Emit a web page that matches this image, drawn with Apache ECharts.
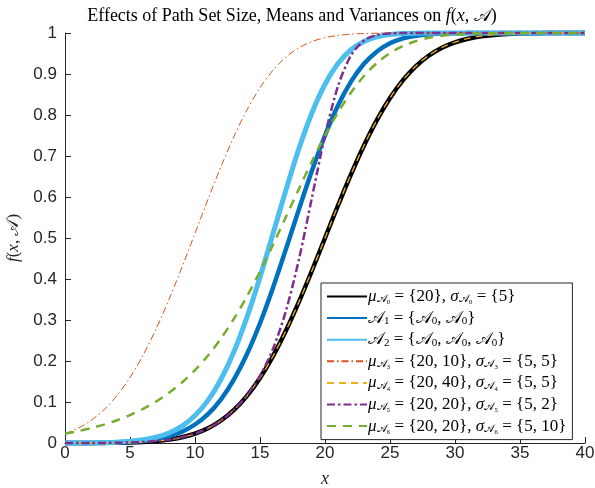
<!DOCTYPE html>
<html>
<head>
<meta charset="utf-8">
<script src="https://cdn.jsdelivr.net/npm/echarts@6/dist/echarts.min.js"></script>
<style>
  html, body { margin: 0; padding: 0; background: #fff; }
  #chart { width: 595px; height: 488px; }
</style>
</head>
<body>
<div id="chart"></div>
<script>
// x positions shared by every curve
const xs = [0, 1, 2, 3, 4, 5, 6, 7, 8, 9, 10, 11, 12, 13, 14, 15, 16, 17, 18, 19, 20,
  21, 22, 23, 24, 25, 26, 27, 28, 29, 30, 31, 32, 33, 34, 35, 36, 37, 38, 39, 40];

// values, one array per curve
const setA0 = [0.0000, 0.0001, 0.0002, 0.0003, 0.0007, 0.0013, 0.0026, 0.0047, 0.0082, 0.0139, 0.0228,
  0.0359, 0.0548, 0.0808, 0.1151, 0.1587, 0.2119, 0.2743, 0.3446, 0.4207, 0.5000,
  0.5793, 0.6554, 0.7257, 0.7881, 0.8413, 0.8849, 0.9192, 0.9452, 0.9641, 0.9772,
  0.9861, 0.9918, 0.9953, 0.9974, 0.9987, 0.9993, 0.9997, 0.9998, 0.9999, 1.0000];
const setA1 = [0.0001, 0.0001, 0.0003, 0.0007, 0.0014, 0.0027, 0.0051, 0.0093, 0.0163, 0.0276, 0.0451,
  0.0705, 0.1066, 0.1551, 0.2170, 0.2922, 0.3789, 0.4734, 0.5705, 0.6644, 0.7500,
  0.8230, 0.8813, 0.9248, 0.9551, 0.9748, 0.9868, 0.9935, 0.9970, 0.9987, 0.9995,
  0.9998, 1.0000, 1.0000, 1.0000, 1.0000, 1.0000, 1.0000, 1.0000, 1.0000, 1.0000];
const setA2 = [0.0001, 0.0002, 0.0005, 0.0010, 0.0021, 0.0040, 0.0078, 0.0140, 0.0244, 0.0411, 0.0669,
  0.1039, 0.1556, 0.2233, 0.3071, 0.4045, 0.5105, 0.6178, 0.7185, 0.8056, 0.8750,
  0.9255, 0.9591, 0.9794, 0.9905, 0.9960, 0.9985, 0.9995, 0.9998, 1.0000, 1.0000,
  1.0000, 1.0000, 1.0000, 1.0000, 1.0000, 1.0000, 1.0000, 1.0000, 1.0000, 1.0000];
const setA3 = [0.0228, 0.0360, 0.0550, 0.0811, 0.1157, 0.1598, 0.2140, 0.2777, 0.3500, 0.4288, 0.5114,
  0.5944, 0.6743, 0.7479, 0.8125, 0.8665, 0.9093, 0.9414, 0.9641, 0.9792, 0.9886,
  0.9942, 0.9972, 0.9987, 0.9994, 0.9998, 0.9999, 1.0000, 1.0000, 1.0000, 1.0000,
  1.0000, 1.0000, 1.0000, 1.0000, 1.0000, 1.0000, 1.0000, 1.0000, 1.0000, 1.0000];
const setA4 = [0.0000, 0.0001, 0.0002, 0.0003, 0.0007, 0.0013, 0.0026, 0.0047, 0.0082, 0.0139, 0.0228,
  0.0359, 0.0548, 0.0808, 0.1151, 0.1587, 0.2119, 0.2743, 0.3446, 0.4207, 0.5000,
  0.5793, 0.6554, 0.7257, 0.7881, 0.8415, 0.8852, 0.9197, 0.9457, 0.9650, 0.9777,
  0.9870, 0.9922, 0.9960, 0.9980, 0.9989, 0.9996, 0.9998, 0.9999, 1.0000, 1.0000];
const setA5 = [0.0000, 0.0001, 0.0002, 0.0003, 0.0007, 0.0013, 0.0026, 0.0047, 0.0082, 0.0139, 0.0228,
  0.0359, 0.0548, 0.0810, 0.1163, 0.1639, 0.2299, 0.3228, 0.4486, 0.5994, 0.7500,
  0.8702, 0.9453, 0.9817, 0.9952, 0.9990, 0.9998, 1.0000, 1.0000, 1.0000, 1.0000,
  1.0000, 1.0000, 1.0000, 1.0000, 1.0000, 1.0000, 1.0000, 1.0000, 1.0000, 1.0000];
const setA6 = [0.0228, 0.0288, 0.0361, 0.0449, 0.0555, 0.0681, 0.0832, 0.1010, 0.1224, 0.1477, 0.1779,
  0.2134, 0.2551, 0.3033, 0.3578, 0.4182, 0.4835, 0.5516, 0.6203, 0.6873, 0.7500,
  0.8064, 0.8550, 0.8952, 0.9270, 0.9510, 0.9684, 0.9804, 0.9884, 0.9934, 0.9964,
  0.9981, 0.9991, 0.9995, 0.9998, 0.9999, 1.0000, 1.0000, 1.0000, 1.0000, 1.0000];

const xTicks = [0, 5, 10, 15, 20, 25, 30, 35, 40];
const yTicks = [0, 0.1, 0.2, 0.3, 0.4, 0.5, 0.6, 0.7, 0.8, 0.9, 1];

const SERIF = '"Liberation Serif", "DejaVu Serif", serif';
const SANS = '"Liberation Sans", Arial, sans-serif';
const AXIS = '#262626';
const CAL = '\u{1D49C}'; // script A

// legend label for each curve, as rich text
const legendText = {
  A0: '{i|μ}{s|' + CAL + '₀} = {20}, {i|σ}{s|' + CAL + '₀} = {5}',
  A1: CAL + '{s|1} = {' + CAL + '{s|0}, ' + CAL + '{s|0}}',
  A2: CAL + '{s|2} = {' + CAL + '{s|0}, ' + CAL + '{s|0}, ' + CAL + '{s|0}}',
  A3: '{i|μ}{s|' + CAL + '₃} = {20, 10}, {i|σ}{s|' + CAL + '₃} = {5, 5}',
  A4: '{i|μ}{s|' + CAL + '₄} = {20, 40}, {i|σ}{s|' + CAL + '₄} = {5, 5}',
  A5: '{i|μ}{s|' + CAL + '₅} = {20, 20}, {i|σ}{s|' + CAL + '₅} = {5, 2}',
  A6: '{i|μ}{s|' + CAL + '₆} = {20, 20}, {i|σ}{s|' + CAL + '₆} = {5, 10}'
};

function pairs(values) {
  return xs.map((x, i) => [x, values[i]]);
}

function curve(name, values, color, width, type) {
  return {
    name: name,
    type: 'line',
    data: pairs(values),
    smooth: 0.3,
    symbol: 'none',
    clip: false,
    lineStyle: { color: color, width: width, type: type, cap: 'butt' },
    itemStyle: { color: color },
    emphasis: { disabled: true }
  };
}

const chart = echarts.init(document.getElementById('chart'), null, { renderer: 'canvas' });

chart.setOption({
  animation: false,
  backgroundColor: '#fff',
  title: {
    text: 'Effects of Path Set Size, Means and Variances on {i|f}({i|x}, ' + CAL + ')',
    left: 287,
    textAlign: 'center',
    top: 2,
    textStyle: {
      fontFamily: SERIF,
      fontWeight: 'normal',
      fontSize: 18,
      color: '#000',
      rich: {
        i: { fontFamily: SERIF, fontStyle: 'italic', fontSize: 18, color: '#000' }
      }
    }
  },
  grid: { left: 65, right: 10, top: 33, bottom: 45, containLabel: false, outerBoundsMode: 'none' },
  xAxis: {
    type: 'value',
    min: 0,
    max: 40,
    interval: 5,
    name: 'x',
    nameLocation: 'middle',
    nameGap: 27,
    nameTextStyle: { fontFamily: SERIF, fontStyle: 'italic', fontSize: 18, color: AXIS },
    axisLine: { lineStyle: { color: AXIS, width: 1 } },
    axisTick: { inside: true, length: 6, lineStyle: { color: AXIS } },
    axisLabel: {
      fontFamily: SANS, fontSize: 17, color: AXIS, margin: 2,
      formatter: (v) => (xTicks.includes(v) ? String(v) : '')
    },
    splitLine: { show: false }
  },
  yAxis: {
    type: 'value',
    min: 0,
    max: 1,
    interval: 0.1,
    name: '{i|f}({i|x}, ' + CAL + ')',
    nameLocation: 'middle',
    nameGap: 34,
    nameRotate: 90,
    nameTextStyle: {
      fontFamily: SERIF, fontSize: 17, color: AXIS,
      rich: { i: { fontFamily: SERIF, fontStyle: 'italic', fontSize: 17, color: AXIS } }
    },
    axisLine: { lineStyle: { color: AXIS, width: 1 } },
    axisTick: { inside: true, length: 6, lineStyle: { color: AXIS } },
    axisLabel: {
      fontFamily: SANS, fontSize: 17, color: AXIS, margin: 8,
      formatter: (v) => {
        const t = yTicks.find((k) => Math.abs(k - v) < 1e-6);
        return t === undefined ? '' : String(t);
      }
    },
    splitLine: { show: false }
  },
  legend: {
    orient: 'vertical',
    left: 321,
    top: 283,
    padding: [5, 6, 5, 5],
    itemGap: 4.6,
    itemWidth: 40,
    itemHeight: 17.5,
    backgroundColor: '#fff',
    borderColor: AXIS,
    borderWidth: 1,
    borderRadius: 0,
    selectedMode: false,
    itemStyle: { opacity: 0 },
    formatter: (name) => legendText[name],
    textStyle: {
      fontFamily: SERIF,
      fontSize: 17,
      color: '#000',
      padding: [0, 0, 0, -4],
      rich: {
        i: { fontFamily: SERIF, fontStyle: 'italic', fontSize: 17, color: '#000' },
        s: { fontFamily: SERIF, fontSize: 11, color: '#000', verticalAlign: 'bottom', padding: [6, 0, 0, 0] }
      }
    },
    data: ['A0', 'A1', 'A2', 'A3', 'A4', 'A5', 'A6']
  },
  series: [
    curve('A0', setA0, '#000000', 4.5, 'solid'),
    curve('A1', setA1, '#0072BD', 4.5, 'solid'),
    curve('A2', setA2, '#4DBEEE', 5, 'solid'),
    curve('A3', setA3, '#D95319', 1, [7, 3, 1.5, 3]),
    curve('A4', setA4, '#EDB120', 1.3, [7, 5]),
    curve('A5', setA5, '#7E2F8E', 2.5, [8, 3, 2.5, 3]),
    curve('A6', setA6, '#77AC30', 2.5, [9, 7])
  ]
});
</script>
</body>
</html>
